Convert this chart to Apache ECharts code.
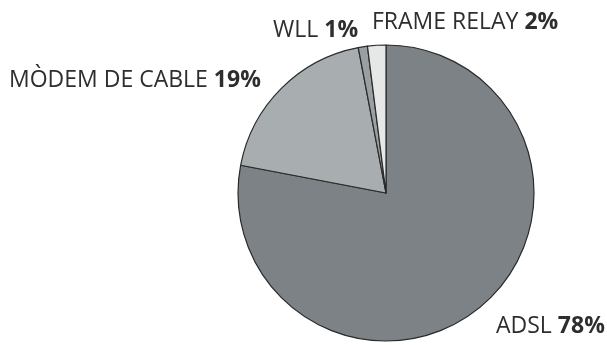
<!DOCTYPE html>
<html>
<head>
<meta charset="utf-8">
<script src="https://cdn.jsdelivr.net/npm/echarts@6/dist/echarts.min.js"></script>
<style>
  html, body { margin: 0; padding: 0; background: #fff; }
  #chart { width: 607px; height: 345px; }
</style>
</head>
<body>
<div id="chart"></div>
<script>
// Broadband access technologies, share of lines (%)
const categories = ['ADSL', 'MÒDEM DE CABLE', 'WLL', 'FRAME RELAY'];
const shares = [78, 19, 1, 2];
const sliceColors = ['#7c8285', '#a8adaf', '#9a9fa1', '#e6e8e8'];
// Label anchor points (left edge, vertical middle), one per category
const labelSpots = [[496, 326], [9, 80], [273, 30], [372, 22]];

const chart = echarts.init(document.getElementById('chart'), null, { renderer: 'canvas' });

chart.setOption({
  animation: false,
  series: [{
    type: 'pie',
    center: [386, 193],
    radius: 148,
    startAngle: 90,
    clockwise: true,
    avoidLabelOverlap: false,
    itemStyle: { borderColor: '#2a2a2a', borderWidth: 1.2 },
    label: {
      show: true,
      position: 'outside',
      formatter: p => '{n|' + p.name + '}{v|' + p.value + '%}',
      rich: {
        n: { fontFamily: 'Open Sans', fontSize: 23, color: '#2e2e2e', padding: [0, 6, 0, 0] },
        v: { fontFamily: 'Open Sans', fontSize: 23, fontWeight: 'bold', color: '#2e2e2e' }
      }
    },
    labelLine: { show: false },
    labelLayout: p => ({
      x: labelSpots[p.dataIndex][0],
      y: labelSpots[p.dataIndex][1],
      align: 'left',
      verticalAlign: 'middle'
    }),
    emphasis: { disabled: true },
    data: categories.map((c, i) => ({
      name: c,
      value: shares[i],
      itemStyle: { color: sliceColors[i] }
    }))
  }]
});
</script>
</body>
</html>
